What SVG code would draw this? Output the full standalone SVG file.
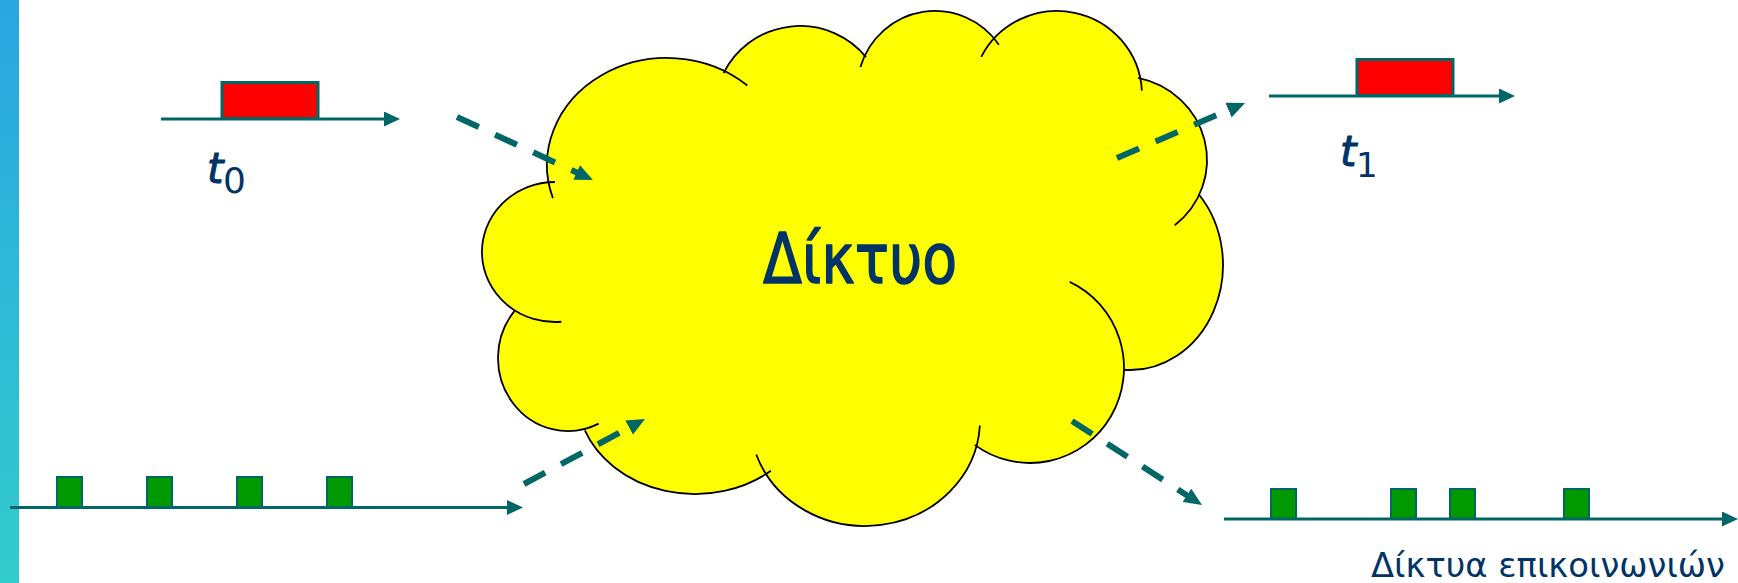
<svg xmlns="http://www.w3.org/2000/svg" width="1738" height="583" viewBox="0 0 1738 583">
<style>
.axis{stroke:#006666;stroke-width:3;fill:none}
.red{fill:#FF0000;stroke:#006666;stroke-width:3}
.grn{fill:#009900;stroke:#006666;stroke-width:2}
.blob{fill:#FFFF00;stroke:none}
.edge{fill:none;stroke:#000;stroke-width:1.8}
.dash{fill:none;stroke:#006666;stroke-width:6;stroke-dasharray:24 18}
.lbl{fill:#003366;font-family:"DejaVu Sans","Liberation Sans",sans-serif}
.heavy{stroke:#003366;stroke-linejoin:round}
</style>
<defs>
<linearGradient id="barg" x1="0" y1="0" x2="0" y2="1">
<stop offset="0" stop-color="#2AA6E1"/>
<stop offset="1" stop-color="#33CCCC"/>
</linearGradient>
<marker id="axhead" markerUnits="userSpaceOnUse" markerWidth="16" markerHeight="15" refX="8" refY="7.5" orient="auto" viewBox="0 0 16 15">
<path d="M0,0 L16,7.5 L0,15 z" fill="#006666"/>
</marker>
<marker id="dhead" markerUnits="userSpaceOnUse" markerWidth="18" markerHeight="16" refX="6" refY="8" orient="auto" viewBox="0 0 18 16">
<path d="M0,0 L18,8 L0,16 z" fill="#006666"/>
</marker>
</defs>
<rect width="1738" height="583" fill="#FFFFFF"/>
<g id="side-bar"><rect x="0" y="0" width="19" height="583" fill="url(#barg)"/></g>

<g id="cloud">
<ellipse class="blob" cx="555" cy="252" rx="73" ry="70"/>
<ellipse class="blob" cx="667" cy="165" rx="120" ry="107"/>
<ellipse class="blob" cx="800" cy="110" rx="85" ry="84"/>
<ellipse class="blob" cx="935" cy="90" rx="78" ry="79"/>
<ellipse class="blob" cx="1057" cy="95" rx="85" ry="84"/>
<ellipse class="blob" cx="1120" cy="160" rx="87" ry="84"/>
<ellipse class="blob" cx="1130" cy="265" rx="93" ry="105"/>
<ellipse class="blob" cx="1030" cy="368" rx="94" ry="95"/>
<ellipse class="blob" cx="865" cy="420" rx="115" ry="106"/>
<ellipse class="blob" cx="695" cy="395" rx="118" ry="99"/>
<ellipse class="blob" cx="568" cy="358" rx="70" ry="73"/>
<ellipse class="blob" cx="845" cy="275" rx="280" ry="170"/>
<path class="edge" d="M561.36,321.73 A73,70 0 1 1 555,182"/>
<path class="edge" d="M552.87,198.07 A120,107 0 0 1 747.3,85.48"/>
<path class="edge" d="M723.6,73.18 A85,84 0 0 1 866.06,57.14"/>
<path class="edge" d="M860.41,66.9 A78,79 0 0 1 998.89,44.69"/>
<path class="edge" d="M981.26,56.86 A85,84 0 0 1 1141.88,90.6"/>
<path class="edge" d="M1138.09,77.84 A87,84 0 0 1 1174.75,225.28"/>
<path class="edge" d="M1199.11,194.74 A93,105 0 0 1 1123.51,369.74"/>
<path class="edge" d="M1069.73,281.9 A94,95 0 1 1 974.75,444.86"/>
<path class="edge" d="M979.84,425.55 A115,106 0 0 1 756.27,454.51"/>
<path class="edge" d="M770.85,470.84 A118,99 0 0 1 584.84,430.48"/>
<path class="edge" d="M598.69,423.61 A70,73 0 0 1 514.38,311.08"/>
<text class="lbl heavy" x="763" y="283" font-size="70" stroke-width="1.5" textLength="194" lengthAdjust="spacingAndGlyphs">Δίκτυο</text>
</g>

<g id="signal-t0">
<rect class="red" x="222" y="82.5" width="96" height="36"/>
<line class="axis" x1="161" y1="119" x2="392" y2="119" marker-end="url(#axhead)"/>
<text class="lbl heavy" x="207" y="183" font-size="42" font-style="italic" stroke-width="1">t</text>
<text class="lbl" x="223" y="193" font-size="36">0</text>
</g>

<g id="signal-t1">
<rect class="red" x="1357" y="59.5" width="96" height="36"/>
<line class="axis" x1="1269" y1="96" x2="1507" y2="96" marker-end="url(#axhead)"/>
<text class="lbl heavy" x="1340" y="166" font-size="42" font-style="italic" stroke-width="1">t</text>
<text class="lbl" x="1356" y="177" font-size="34">1</text>
</g>

<g id="packets-in">
<rect class="grn" x="57" y="477" width="25" height="30"/>
<rect class="grn" x="147" y="477" width="25" height="30"/>
<rect class="grn" x="237" y="477" width="25" height="30"/>
<rect class="grn" x="327" y="477" width="25" height="30"/>
<line class="axis" x1="10" y1="507.5" x2="515" y2="507.5" marker-end="url(#axhead)"/>
</g>

<g id="packets-out">
<rect class="grn" x="1271" y="489" width="25" height="30"/>
<rect class="grn" x="1391" y="489" width="25" height="30"/>
<rect class="grn" x="1450" y="489" width="25" height="30"/>
<rect class="grn" x="1564" y="489" width="25" height="30"/>
<line class="axis" x1="1224" y1="519" x2="1730" y2="519" marker-end="url(#axhead)"/>
</g>

<g id="connectors">
<path class="dash" d="M457,117 L582.1,175" marker-end="url(#dhead)"/>
<path class="dash" d="M524,484 L634.4,424.7" marker-end="url(#dhead)"/>
<path class="dash" d="M1117,158 L1234,107.7" marker-end="url(#dhead)"/>
<path class="dash" d="M1072,421 L1191.9,498.5" marker-end="url(#dhead)"/>
</g>

<g id="caption">
<text class="lbl" x="1371" y="577" font-size="33" textLength="354" lengthAdjust="spacingAndGlyphs">Δίκτυα επικοινωνιών</text>
</g>
</svg>
